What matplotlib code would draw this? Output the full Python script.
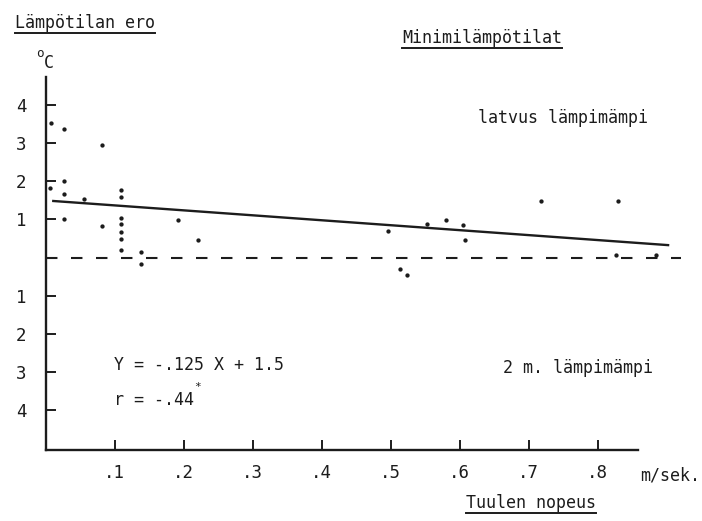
import matplotlib
matplotlib.use("Agg")
import matplotlib.pyplot as plt
from matplotlib.lines import Line2D

# wind speed (m/s) vs. temperature difference crown - 2 m (deg C)
wind = [0.007, 0.027, 0.081, 0.027, 0.006, 0.027, 0.056, 0.027, 0.081,
        0.109, 0.109, 0.109, 0.109, 0.109, 0.109, 0.109, 0.138, 0.138,
        0.192, 0.220, 0.496, 0.513, 0.523, 0.552, 0.580, 0.605, 0.608,
        0.718, 0.830, 0.827, 0.884]
temp_diff = [3.52, 3.37, 2.95, 2.02, 1.82, 1.68, 1.54, 1.01, 0.83,
             1.77, 1.60, 1.04, 0.87, 0.67, 0.48, 0.20, 0.14, -0.16,
             0.99, 0.47, 0.69, -0.31, -0.46, 0.88, 0.99, 0.86, 0.46,
             1.48, 1.48, 0.06, 0.06]

# regression line as drawn
fit_start, fit_end = 0.011, 0.902
fit_intercept = 1.5
fit_slope = -1.3

y_ticks = [4, 3, 2, 1, -1, -2, -3, -4]
y_labels = ["4", "3", "2", "1", "1", "2", "3", "4"]
x_ticks = [0.1, 0.2, 0.3, 0.4, 0.5, 0.6, 0.7, 0.8]
x_labels = [".1", ".2", ".3", ".4", ".5", ".6", ".7", ".8"]

INK = "#1c1c1c"
FONT = "DejaVu Sans Mono"
FS = 12
W, H = 702, 521

plt.rcParams["font.family"] = FONT


def px(x, y):
    return x / W, 1 - y / H


fig = plt.figure(figsize=(W / 100, H / 100), dpi=100)
ax = fig.add_axes([45.7 / W, (H - 450) / H, (680.5 - 45.7) / W, (450 - 77) / H])
ax.set_xlim(0, 0.92)
ax.set_ylim(-5.05, 4.74)

ax.plot(wind, temp_diff, "o", color=INK, markersize=3.1, markeredgewidth=0)

fx = [fit_start, fit_end]
fy = [fit_intercept + fit_slope * v for v in fx]
ax.plot(fx, fy, "-", color=INK, linewidth=1.7)
ax.plot([0, 0.92], [0, 0], color=INK, linewidth=1.5, dashes=(5.5, 6.5))

for s in ("top", "right"):
    ax.spines[s].set_visible(False)
for s in ("left", "bottom"):
    ax.spines[s].set_linewidth(1.7)
    ax.spines[s].set_color(INK)
ax.spines["bottom"].set_bounds(0, 0.858)

ax.set_yticks(y_ticks)
ax.set_yticklabels(y_labels)
ax.set_xticks(x_ticks)
ax.set_xticklabels(x_labels)
ax.tick_params(axis="y", direction="in", length=7, width=1.4, color=INK,
               pad=14, labelsize=FS + 0.5, labelcolor=INK)
ax.tick_params(axis="x", direction="in", length=7, width=1.4, color=INK,
               pad=10, labelsize=FS + 0.5, labelcolor=INK)

texts = {}
texts["ylab"] = fig.text(*px(15, 28), "Lämpötilan ero", fontsize=FS, color=INK, va="baseline")
texts["title"] = fig.text(*px(402, 43), "Minimilämpötilat", fontsize=FS, color=INK, va="baseline")
texts["xlab"] = fig.text(*px(466, 508), "Tuulen nopeus", fontsize=FS, color=INK, va="baseline")
fig.text(*px(36, 57), "o", fontsize=9, color=INK, va="baseline")
fig.text(*px(44, 68), "C", fontsize=FS, color=INK, va="baseline")
fig.text(*px(478, 123), "latvus lämpimämpi", fontsize=FS, color=INK, va="baseline")
fig.text(*px(503, 373), "2 m. lämpimämpi", fontsize=FS, color=INK, va="baseline")
fig.text(*px(114, 370), "Y = -.125 X + 1.5", fontsize=FS, color=INK, va="baseline")
fig.text(*px(114, 405), "r = -.44", fontsize=FS, color=INK, va="baseline")
fig.text(*px(194, 390), "*", fontsize=8, color=INK, va="baseline")
fig.text(*px(640, 480), "m/sek.", fontsize=FS, color=INK, va="baseline")

# underline the three headings
fig.canvas.draw()
renderer = fig.canvas.get_renderer()
inv = fig.transFigure.inverted()
for key in ("ylab", "title", "xlab"):
    bb = texts[key].get_window_extent(renderer)
    (x0, y0), (x1, _) = inv.transform([(bb.x0, bb.y0 - 1), (bb.x1, bb.y0 - 1)])
    fig.add_artist(Line2D([x0, x1], [y0, y0], transform=fig.transFigure,
                          color=INK, linewidth=1.4))

fig.savefig("out.png", dpi=100)
